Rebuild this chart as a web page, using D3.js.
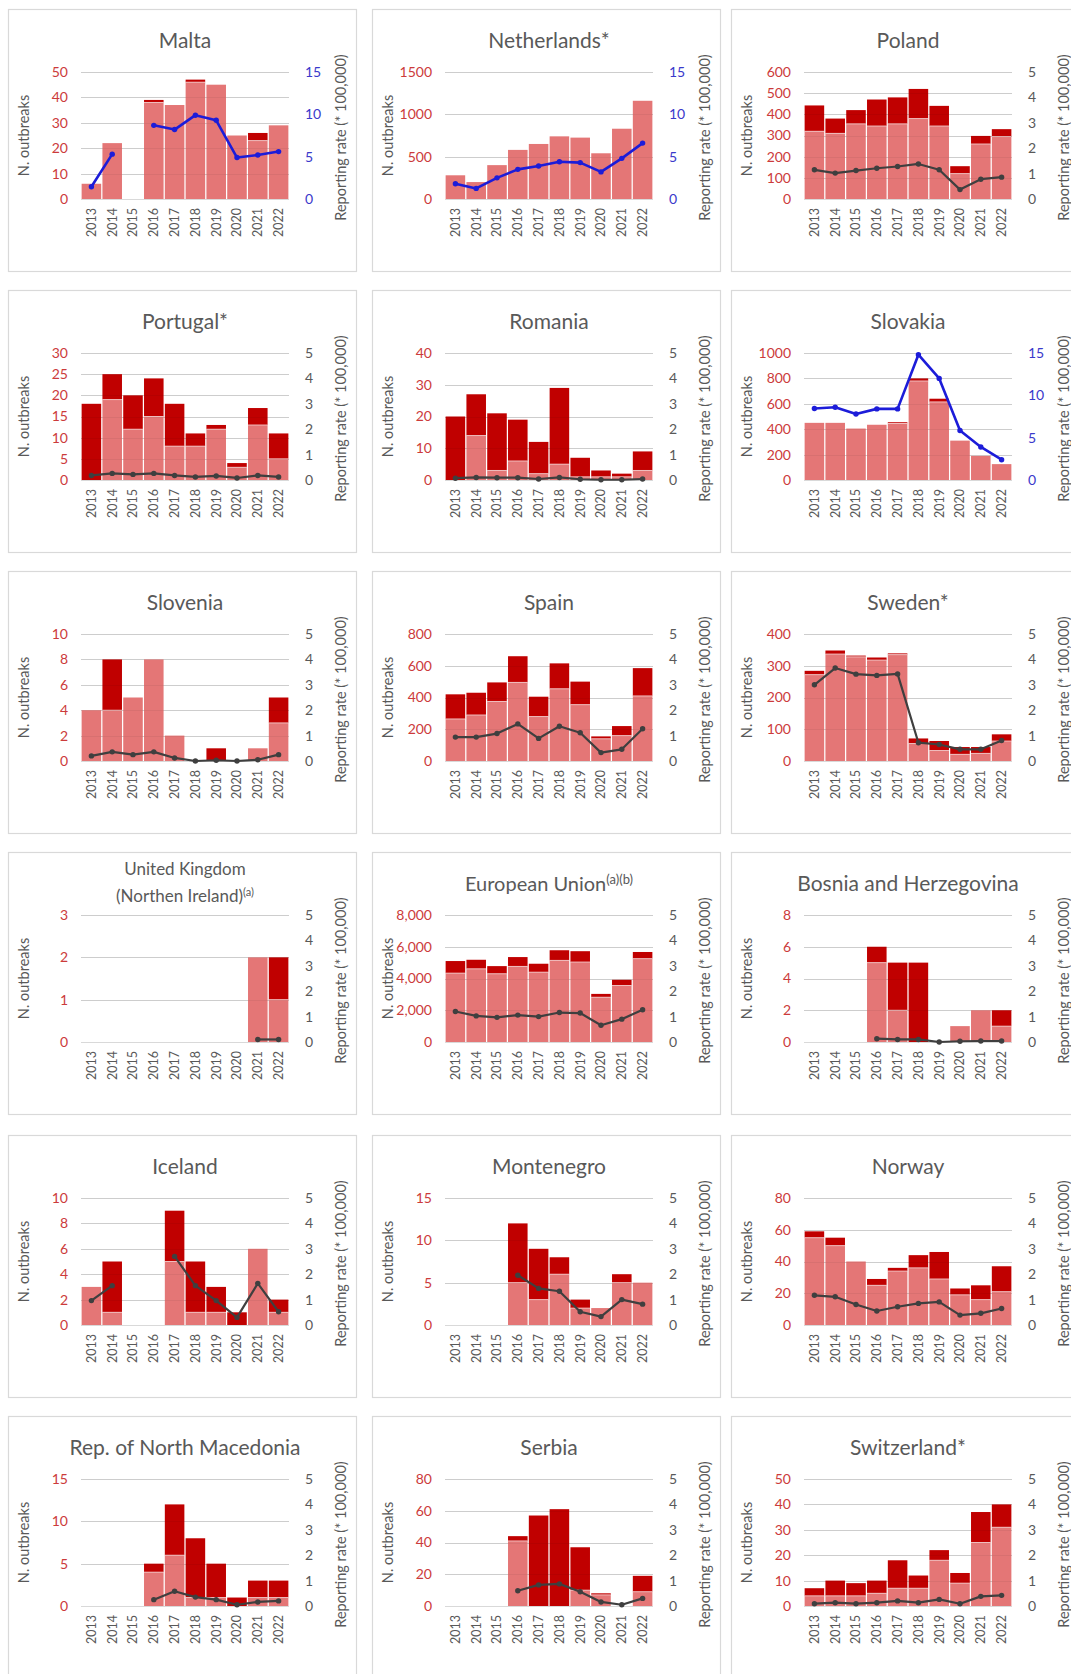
<!DOCTYPE html>
<html>
<head>
<meta charset="utf-8">
<script src="https://cdn.jsdelivr.net/npm/d3@7"></script>
<style>
  body { margin: 0; background: #fff; }
  svg { display: block; }
</style>
</head>
<body>
<svg id="chart" width="1071" height="1674"></svg>
<script>
// ---------------- DATA ----------------
const years = ["2013","2014","2015","2016","2017","2018","2019","2020","2021","2022"];

const titles = ["Malta","Netherlands*","Poland","Portugal*","Romania","Slovakia","Slovenia","Spain","Sweden*",
  "United Kingdom|(Northen Ireland)","European Union","Bosnia and Herzegovina","Iceland","Montenegro","Norway",
  "Rep. of North Macedonia","Serbia","Switzerland*"];
const titleSups = ["","","","","","","","","","(a)","(a)(b)","","","","","","",""];

// light bars (lower segment), dark bars (upper segment), reporting rate line
const maltaLight = [6,22,0,38,37,46,45,25,23,29];
const maltaDark  = [0,0,0,1,0,1,0,0,3,0];
const maltaRate  = [1.45,5.3,null,8.7,8.2,9.9,9.3,4.9,5.2,5.6];

const netherlandsLight = [280,200,400,580,650,740,725,540,830,1160];
const netherlandsDark  = [0,0,0,0,0,0,0,0,0,0];
const netherlandsRate  = [1.8,1.25,2.5,3.5,3.9,4.4,4.3,3.2,4.8,6.6];

const polandLight = [320,310,355,345,355,380,345,120,260,295];
const polandDark  = [122,70,65,125,125,140,95,35,38,35];
const polandRate  = [1.15,1.02,1.12,1.21,1.28,1.38,1.15,0.37,0.78,0.86];

const portugalLight = [0,19,12,15,8,8,12,3,13,5];
const portugalDark  = [18,6,8,9,10,3,1,1,4,6];
const portugalRate  = [0.18,0.26,0.22,0.26,0.18,0.12,0.16,0.08,0.18,0.12];

const romaniaLight = [0,14,3,6,2,5,1,1,1,3];
const romaniaDark  = [20,13,18,13,10,24,6,2,1,6];
const romaniaRate  = [0.07,0.1,0.09,0.09,0.04,0.1,0.03,0.01,0.01,0.04];

const slovakiaLight = [450,450,405,435,445,780,615,310,190,125];
const slovakiaDark  = [0,0,0,0,10,20,25,0,0,0];
const slovakiaRate  = [8.45,8.6,7.8,8.4,8.4,14.8,12,5.85,3.9,2.4];

const sloveniaLight = [4,4,5,8,2,0,0,0,1,3];
const sloveniaDark  = [0,4,0,0,0,0,1,0,0,2];
const sloveniaRate  = [0.2,0.36,0.25,0.36,0.12,0,0.03,0,0.05,0.25];

const spainLight = [265,290,375,495,280,455,355,140,160,410];
const spainDark  = [155,140,120,165,125,160,145,15,60,175];
const spainRate  = [0.94,0.94,1.08,1.46,0.89,1.37,1.11,0.33,0.46,1.27];

const swedenLight = [272,337,328,318,335,55,33,21,24,63];
const swedenDark  = [12,11,4,8,4,16,30,23,20,21];
const swedenRate  = [3.0,3.66,3.42,3.37,3.43,0.72,0.65,0.46,0.46,0.81];

const ukLight = [0,0,0,0,0,0,0,0,2,1];
const ukDark  = [0,0,0,0,0,0,0,0,0,1];
const ukRate  = [null,null,null,null,null,null,null,null,0.1,0.1];

const euLight = [4340,4610,4300,4760,4400,5140,5040,2820,3560,5250];
const euDark  = [760,570,480,590,530,640,680,210,360,420];
const euRate  = [1.2,1.03,0.97,1.06,1.0,1.16,1.14,0.66,0.9,1.27];

const bosniaLight = [0,0,0,5,2,0,0,1,2,1];
const bosniaDark  = [0,0,0,1,3,5,0,0,0,1];
const bosniaRate  = [null,null,null,0.13,0.1,0.1,0,0.03,0.04,0.04];

const icelandLight = [3,1,0,0,5,1,1,0,6,1];
const icelandDark  = [0,4,0,0,4,4,2,1,0,1];
const icelandRate  = [0.96,1.55,null,null,2.7,1.55,0.96,0.3,1.64,0.52];

const montenegroLight = [0,0,0,5,3,6,2,2,5,5];
const montenegroDark  = [0,0,0,7,6,2,1,0,1,0];
const montenegroRate  = [null,null,null,1.96,1.44,1.33,0.52,0.33,1.0,0.82];

const norwayLight = [55,50,40,25,34,36,29,19,16,21];
const norwayDark  = [4,5,0,4,2,8,17,4,9,16];
const norwayRate  = [1.17,1.11,0.81,0.55,0.72,0.85,0.91,0.39,0.46,0.65];

const macedoniaLight = [0,0,0,4,6,1,1,0,1,1];
const macedoniaDark  = [0,0,0,1,6,7,4,1,2,2];
const macedoniaRate  = [null,null,null,0.25,0.58,0.35,0.25,0.05,0.16,0.2];

const serbiaLight = [0,0,0,41,0,0,10,7,0,9];
const serbiaDark  = [0,0,0,3,57,61,27,1,0,10];
const serbiaRate  = [null,null,null,0.6,0.83,0.87,0.56,0.16,0.05,0.3];

const switzerlandLight = [4,4,4,5,7,7,18,9,25,31];
const switzerlandDark  = [3,6,5,5,11,5,4,4,12,9];
const switzerlandRate  = [0.09,0.13,0.09,0.13,0.2,0.13,0.26,0.09,0.38,0.42];

// axis tick settings
const leftMax   = [50,1500,600,30,40,1000,10,800,400,3,8000,8,10,15,80,15,80,50];
const leftStep  = [10,500,100,5,10,200,2,200,100,1,2000,2,2,5,20,5,20,10];
const leftFmt   = ["d","d","d","d","d","d","d","d","d","d",",","d","d","d","d","d","d","d"];
const rightMax  = [15,15,5,5,5,15,5,5,5,5,5,5,5,5,5,5,5,5];
const rightStep = [5,5,1,1,1,5,1,1,1,1,1,1,1,1,1,1,1,1];
const blueRate  = [true,true,false,false,false,true,false,false,false,false,false,false,false,false,false,false,false,false];

const lightSeries = [maltaLight,netherlandsLight,polandLight,portugalLight,romaniaLight,slovakiaLight,
  sloveniaLight,spainLight,swedenLight,ukLight,euLight,bosniaLight,icelandLight,montenegroLight,norwayLight,
  macedoniaLight,serbiaLight,switzerlandLight];
const darkSeries = [maltaDark,netherlandsDark,polandDark,portugalDark,romaniaDark,slovakiaDark,
  sloveniaDark,spainDark,swedenDark,ukDark,euDark,bosniaDark,icelandDark,montenegroDark,norwayDark,
  macedoniaDark,serbiaDark,switzerlandDark];
const rateSeries = [maltaRate,netherlandsRate,polandRate,portugalRate,romaniaRate,slovakiaRate,
  sloveniaRate,spainRate,swedenRate,ukRate,euRate,bosniaRate,icelandRate,montenegroRate,norwayRate,
  macedoniaRate,serbiaRate,switzerlandRate];

// ---------------- LAYOUT ----------------
const FONT = "Lato, 'Open Sans', sans-serif";
const C_LIGHT = "#e47676", C_DARK = "#c00000", C_RED_TXT = "#cc3b3b";
const C_BLUE = "#1c1cd9", C_BLUE_TXT = "#3a3acb", C_LINE = "#3f3f3f", C_GRAY = "#595959";
const panelX = [8, 372, 731];
const rowY = [9, 290, 571, 852, 1135, 1416];
const PW = 348, PH = 262;
const PL = 73, PR = 281, PT = 63, PB = 190;

const svg = d3.select("#chart");

titles.forEach((title, i) => {
  const col = i % 3, row = Math.floor(i / 3);
  const g = svg.append("g").attr("transform", `translate(${panelX[col]},${rowY[row]})`);

  g.append("rect").attr("x", 0.5).attr("y", 0.5).attr("width", PW).attr("height", PH)
    .attr("fill", "#fff").attr("stroke", "#d9d9d9").attr("stroke-width", 1.2);

  const x = d3.scaleBand().domain(years).range([PL, PR]).paddingInner(0.06).paddingOuter(0.03);
  const yL = d3.scaleLinear().domain([0, leftMax[i]]).range([PB, PT]);
  const yR = d3.scaleLinear().domain([0, rightMax[i]]).range([PB, PT]);
  const lTicks = d3.range(0, leftMax[i] + leftStep[i] / 2, leftStep[i]);
  const rTicks = d3.range(0, rightMax[i] + rightStep[i] / 2, rightStep[i]);

  // gridlines
  g.append("g").selectAll("line").data(lTicks).join("line")
    .attr("x1", PL).attr("x2", PR).attr("y1", d => Math.round(yL(d)) + 0.5).attr("y2", d => Math.round(yL(d)) + 0.5)
    .attr("stroke", "#d9d9d9").attr("stroke-width", 1);

  // bars
  const light = lightSeries[i], dark = darkSeries[i];
  const bars = g.append("g");
  years.forEach((yr, j) => {
    if (light[j] > 0) {
      bars.append("rect").attr("x", x(yr)).attr("width", x.bandwidth())
        .attr("y", yL(light[j])).attr("height", yL(0) - yL(light[j]))
        .attr("fill", C_LIGHT);
    }
    if (dark[j] > 0) {
      bars.append("rect").attr("x", x(yr)).attr("width", x.bandwidth())
        .attr("y", yL(light[j] + dark[j])).attr("height", yL(light[j]) - yL(light[j] + dark[j]))
        .attr("fill", C_DARK);
    }
    if (light[j] > 0 && dark[j] > 0) {
      bars.append("line").attr("x1", x(yr)).attr("x2", x(yr) + x.bandwidth())
        .attr("y1", yL(light[j])).attr("y2", yL(light[j]))
        .attr("stroke", "#fff").attr("stroke-opacity", 0.6).attr("stroke-width", 1);
    }
  });

  // faint gridlines over bars
  g.append("g").selectAll("line").data(lTicks.slice(1)).join("line")
    .attr("x1", PL).attr("x2", PR).attr("y1", d => Math.round(yL(d)) + 0.5).attr("y2", d => Math.round(yL(d)) + 0.5)
    .attr("stroke", "#000").attr("stroke-opacity", 0.05);

  // rate line
  const pts = years.map((yr, j) => ({ yr, v: rateSeries[i][j] }));
  const lc = blueRate[i] ? C_BLUE : C_LINE;
  const line = d3.line().defined(d => d.v != null)
    .x(d => x(d.yr) + x.bandwidth() / 2).y(d => yR(d.v));
  g.append("path").datum(pts).attr("d", line).attr("fill", "none")
    .attr("stroke", lc).attr("stroke-width", blueRate[i] ? 2.6 : 2.2).attr("stroke-linejoin", "round");
  g.append("g").selectAll("circle").data(pts.filter(d => d.v != null)).join("circle")
    .attr("cx", d => x(d.yr) + x.bandwidth() / 2).attr("cy", d => yR(d.v)).attr("r", 2.7).attr("fill", lc);

  // left axis
  const la = g.append("g").attr("transform", `translate(${PL},0)`)
    .call(d3.axisLeft(yL).tickValues(lTicks).tickSize(0).tickPadding(13).tickFormat(d3.format(leftFmt[i])));
  la.select(".domain").remove();
  la.selectAll("text").attr("fill", C_RED_TXT).style("font-family", FONT).style("font-size", "14px");

  // right axis
  const ra = g.append("g").attr("transform", `translate(${PR},0)`)
    .call(d3.axisRight(yR).tickValues(rTicks).tickSize(0).tickPadding(16).tickFormat(d3.format("d")));
  ra.select(".domain").remove();
  ra.selectAll("text").attr("fill", blueRate[i] ? C_BLUE_TXT : C_GRAY).style("font-family", FONT).style("font-size", "14px");

  // year labels
  g.append("g").selectAll("text").data(years).join("text")
    .attr("transform", d => `translate(${x(d) + x.bandwidth() / 2},${PB + 9}) rotate(-90)`)
    .attr("text-anchor", "end").attr("dy", "0.35em")
    .attr("fill", C_GRAY).style("font-family", FONT).style("font-size", "12.5px").text(d => d);

  // axis titles
  g.append("text").attr("transform", `translate(16,${(PT + PB) / 2}) rotate(-90)`)
    .attr("text-anchor", "middle").attr("dy", "0.35em")
    .attr("fill", C_GRAY).style("font-family", FONT).style("font-size", "14.5px").text("N. outbreaks");
  g.append("text").attr("transform", `translate(${PR + 52},${(PT + PB) / 2 + 2}) rotate(-90)`)
    .attr("text-anchor", "middle").attr("dy", "0.35em")
    .attr("fill", C_GRAY).style("font-family", FONT).style("font-size", "14.5px").text("Reporting rate (* 100,000)");

  // title
  const lines = title.split("|");
  const cx = (PL + PR) / 2;
  if (lines.length === 1) {
    const t = g.append("text").attr("x", cx).attr("y", 39).attr("text-anchor", "middle")
      .attr("fill", C_GRAY).style("font-family", FONT).style("font-size", i === 10 ? "20px" : "21px");
    t.append("tspan").text(lines[0]);
    if (titleSups[i]) t.append("tspan").attr("dy", "-0.55em").style("font-size", "13px").text(titleSups[i]);
  } else {
    lines.forEach((ln, k) => {
      const t = g.append("text").attr("x", cx).attr("y", k === 0 ? 23 : 50).attr("text-anchor", "middle")
        .attr("fill", C_GRAY).style("font-family", FONT).style("font-size", "17px");
      t.append("tspan").text(ln);
      if (k === lines.length - 1 && titleSups[i])
        t.append("tspan").attr("dy", "-0.55em").style("font-size", "11px").text(titleSups[i]);
    });
  }
});
</script>
</body>
</html>
